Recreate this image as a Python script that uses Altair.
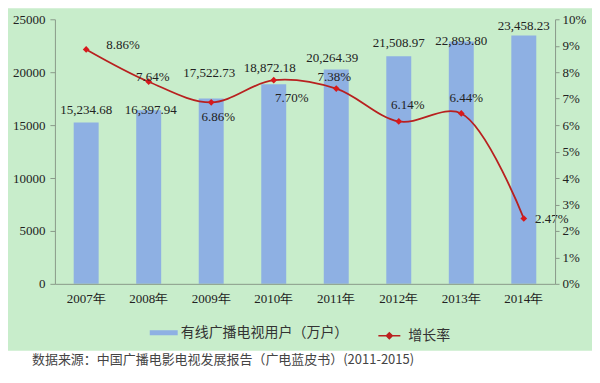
import altair as alt
import pandas as pd

years = ["2007年", "2008年", "2009年", "2010年", "2011年", "2012年", "2013年", "2014年"]
users = [15234.68, 16397.94, 17522.73, 18872.18, 20264.39, 21508.97, 22893.80, 23458.23]
rates = [0.0886, 0.0764, 0.0686, 0.0770, 0.0738, 0.0614, 0.0644, 0.0247]
user_ticks = [0, 5000, 10000, 15000, 20000, 25000]
rate_ticks = [0, 0.01, 0.02, 0.03, 0.04, 0.05, 0.06, 0.07, 0.08, 0.09, 0.10]

bar_name = "有线广播电视用户（万户）"
line_name = "增长率"
caption = "数据来源：中国广播电影电视发展报告（广电蓝皮书）(2011-2015)"

# label offsets (style: dx, dy in pixels)
bar_label_offsets = [(0, -13), (2, 0), (-2, -25), (-4, -16), (-4, -11), (0, -13), (0, -1), (0, -10)]
rate_label_offsets = [(37, -4), (4, -5), (7, 15), (18, 18), (-2, -12), (9, -16), (5, -15), (28, 1)]

df = pd.DataFrame({"year": years, "users": users, "rate": rates})
df["bar_series"] = bar_name
df["line_series"] = line_name

W, H = 501, 265
BG = "#c8edcb"
BAR = "#8eb0e3"
LINE = "#b8201f"
AXIS = "#8a9a8a"
SERIF = "Liberation Serif"
SANS = "Noto Sans CJK SC"

base = alt.Chart(df)

x_enc = alt.X(
    "year:N",
    sort=years,
    scale=alt.Scale(paddingInner=0.6, paddingOuter=0.3),
    axis=alt.Axis(
        title=None, labelAngle=0, ticks=False, domainColor=AXIS, zindex=1,
        labelFont=SERIF, labelFontSize=13, labelColor="#222", labelPadding=9,
    ),
)

y_users = alt.Y(
    "users:Q",
    scale=alt.Scale(domain=[0, 25000], nice=False, zero=True),
    axis=alt.Axis(
        title=None, values=user_ticks, format="d", grid=False, orient="left", zindex=1,
        domainColor=AXIS, tickColor=AXIS, tickSize=5, labelOverlap=False,
        labelFont=SERIF, labelFontSize=13, labelColor="#222", labelPadding=5,
    ),
)

y_rate = alt.Y(
    "rate:Q",
    scale=alt.Scale(domain=[0, 0.10], nice=False),
    axis=alt.Axis(
        title=None, values=rate_ticks, format=".0%", grid=False, orient="right", zindex=1,
        domainColor=AXIS, tickColor=AXIS, tickSize=4, labelOverlap=False, labelBound=False,
        labelFont=SERIF, labelFontSize=13, labelColor="#222", labelPadding=3,
    ),
)

background = alt.Chart(alt.Data(values=[{}])).mark_rect(color=BG).encode(
    x=alt.value(-47), x2=alt.value(W + 37), y=alt.value(-11), y2=alt.value(H + 67)
)

caption_text = alt.Chart(alt.Data(values=[{}])).mark_text(
    text=caption, align="left", baseline="middle", font=SANS, fontSize=13, color="#444"
).encode(x=alt.value(-23), y=alt.value(H + 76))

bars = base.mark_bar(size=25).encode(
    x=x_enc,
    y=y_users,
    color=alt.Color(
        "bar_series:N",
        scale=alt.Scale(range=[BAR]),
        legend=alt.Legend(
            title=None, orient="none", legendX=95, legendY=300, padding=0,
            symbolType="M-1,-0.18H1V0.18H-1Z", symbolSize=784, symbolStrokeWidth=0,
            labelFont=SANS, labelFontSize=14, labelColor="#333", labelOffset=3, labelLimit=400,
        ),
    ),
)

bar_labels = []
for yr, (dx, dy) in zip(years, bar_label_offsets):
    bar_labels.append(
        base.transform_filter(alt.datum.year == yr)
        .mark_text(dx=dx, dy=dy, baseline="middle", font=SERIF, fontSize=13, color="#222")
        .encode(x=x_enc, y=y_users, text=alt.Text("users:Q", format=",.2f"))
    )

users_layer = alt.layer(bars, *bar_labels)

line = base.mark_line(interpolate="catmull-rom", strokeWidth=1.8).encode(
    x=x_enc,
    y=y_rate,
    stroke=alt.Stroke(
        "line_series:N",
        scale=alt.Scale(range=[LINE]),
        legend=alt.Legend(
            title=None, orient="none", legendX=323, legendY=305, padding=0,
            symbolType="M-1,0H1M0,-0.28L0.28,0L0,0.28L-0.28,0Z", symbolSize=484,
            symbolStrokeWidth=1.3, symbolFillColor="#d7191c",
            labelFont=SANS, labelFontSize=14, labelColor="#333", labelOffset=7, labelLimit=400,
        ),
    ),
)

points = base.mark_point(shape="diamond", filled=True, size=45, color="#d7191c", opacity=1).encode(
    x=x_enc, y=y_rate
)

rate_labels = []
for yr, (dx, dy) in zip(years, rate_label_offsets):
    rate_labels.append(
        base.transform_filter(alt.datum.year == yr)
        .mark_text(dx=dx, dy=dy, baseline="middle", font=SERIF, fontSize=13, color="#222")
        .encode(x=x_enc, y=y_rate, text=alt.Text("rate:Q", format=".2%"))
    )

rate_layer = alt.layer(line, points, *rate_labels)

chart = (
    alt.layer(background, users_layer, rate_layer, caption_text)
    .resolve_scale(y="independent", color="independent", stroke="independent")
    .properties(width=W, height=H, padding=0, autosize=alt.AutoSizeParams(type="pad"), background="white")
    .configure_view(strokeWidth=0)
)

chart.save("out.html", embed_options={"renderer": "svg", "actions": False})
